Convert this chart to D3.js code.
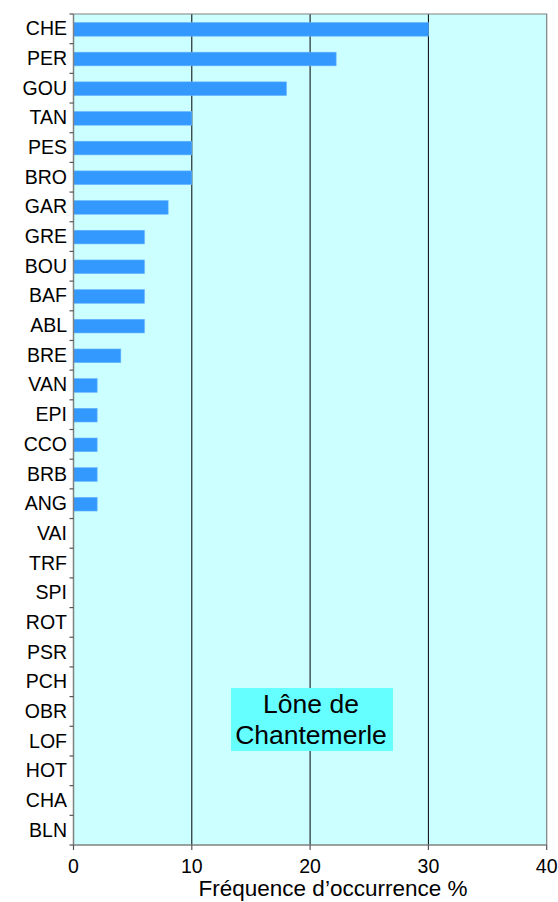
<!DOCTYPE html>
<html><head><meta charset="utf-8">
<script src="https://cdn.jsdelivr.net/npm/d3@7"></script>
<style>body{margin:0;background:#fff}svg{display:block}text{font-family:"Liberation Sans",Arial,sans-serif}</style>
</head><body>
<script>
const categories = ["CHE","PER","GOU","TAN","PES","BRO","GAR","GRE","BOU","BAF","ABL","BRE","VAN","EPI","CCO","BRB","ANG","VAI","TRF","SPI","ROT","PSR","PCH","OBR","LOF","HOT","CHA","BLN"];
const values = [30,22.2,18,10,10,10,8,6,6,6,6,4,2,2,2,2,2,0,0,0,0,0,0,0,0,0,0,0];
const xTicks = [0,10,20,30,40];
const gridValues = [10,20,30];
const xTitle = "Fréquence d\u2019occurrence %";
const boxLines = ["Lône de","Chantemerle"];

const W = 558, H = 902;
const m = {left:73.5, right:558-546.7, top:14, bottom:902-845};
const svg = d3.select("body").append("svg").attr("width",W).attr("height",H);
const x = d3.scaleLinear().domain([0,40]).range([m.left, W-m.right]);
const y = d3.scaleBand().domain(categories).range([m.top, H-m.bottom]).paddingInner(0.54).paddingOuter(0.27);
const yOuter = d3.scaleBand().domain(categories).range([m.top, H-m.bottom]);

svg.append("rect").attr("x",x(0)).attr("y",m.top).attr("width",x(40)-x(0)).attr("height",H-m.bottom-m.top).attr("fill","#CCFFFF");

svg.selectAll("line.grid").data(gridValues).join("line").attr("class","grid")
  .attr("x1",d=>x(d)).attr("x2",d=>x(d)).attr("y1",m.top).attr("y2",H-m.bottom)
  .attr("stroke","#000").attr("stroke-width",1);

svg.append("path").attr("d",`M${x(0)},${m.top}H${x(40)}V${H-m.bottom}`).attr("fill","none").attr("stroke","#808080").attr("stroke-width",1.2);

svg.selectAll("rect.bar").data(categories).join("rect").attr("class","bar")
  .attr("x",x(0)).attr("y",d=>y(d)+0.5).attr("height",y.bandwidth())
  .attr("width",(d,i)=>x(values[i])-x(0))
  .attr("fill","#3399FF").attr("stroke","#66B3FF").attr("stroke-width",0.6)
  .style("display",(d,i)=>values[i]>0?null:"none");

const ya = svg.append("g");
ya.append("line").attr("x1",x(0)).attr("x2",x(0)).attr("y1",m.top).attr("y2",H-m.bottom).attr("stroke","#808080").attr("stroke-width",1.5);
const bounds = categories.map(c=>yOuter(c)).concat([H-m.bottom]);
ya.selectAll("line.t").data(bounds).join("line").attr("class","t")
  .attr("x1",x(0)-4).attr("x2",x(0)).attr("y1",d=>d).attr("y2",d=>d).attr("stroke","#555").attr("stroke-width",1.2);
ya.selectAll("text").data(categories).join("text")
  .attr("x",x(0)-6.5).attr("y",d=>yOuter(d)+yOuter.bandwidth()/2+6.5)
  .attr("text-anchor","end").attr("font-size",19.5).attr("fill","#000").text(d=>d);

const xa = svg.append("g");
xa.append("line").attr("x1",x(0)).attr("x2",x(40)).attr("y1",H-m.bottom).attr("y2",H-m.bottom).attr("stroke","#808080").attr("stroke-width",1.5);
xa.selectAll("line.t").data(xTicks).join("line").attr("class","t")
  .attr("x1",d=>x(d)).attr("x2",d=>x(d)).attr("y1",H-m.bottom).attr("y2",H-m.bottom+5).attr("stroke","#555").attr("stroke-width",1.2);
xa.selectAll("text").data(xTicks).join("text")
  .attr("x",d=>x(d)).attr("y",873).attr("text-anchor","middle").attr("font-size",19.5).attr("fill","#000").text(d=>d);
svg.append("text").attr("x",333).attr("y",896).attr("text-anchor","middle").attr("font-size",22.5).attr("fill","#000").text(xTitle);

svg.append("rect").attr("x",231).attr("y",688).attr("width",162).attr("height",63).attr("fill","#66FFFF");
svg.selectAll("text.box").data(boxLines).join("text").attr("class","box")
  .attr("x",311).attr("y",(d,i)=>713+i*31).attr("text-anchor","middle").attr("font-size",26.5).attr("fill","#000").text(d=>d);
</script>
</body></html>
